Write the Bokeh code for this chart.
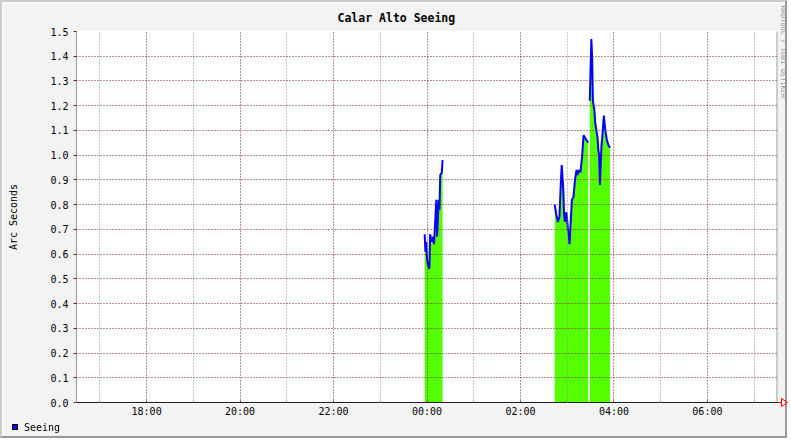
import math
from bokeh.plotting import figure
from bokeh.layouts import column
from bokeh.models import FixedTicker, Range1d, Title, Div, Span
from bokeh.embed import file_html
from bokeh.resources import INLINE

# ---- data (minutes relative to 00:00, seeing in arc seconds) ----
seg1_min = [-3, -2, -1, 0, 1, 3, 4, 6, 8, 9, 10, 12, 13, 15, 16, 17, 19, 20]
seg1_val = [0.68, 0.61, 0.65, 0.58, 0.56, 0.54, 0.68, 0.65, 0.67, 0.64, 0.70,
            0.82, 0.67, 0.82, 0.78, 0.92, 0.93, 0.98]

seg2_min = [164, 166, 168, 170, 172, 173, 175, 176, 177, 178, 179, 181, 182, 183,
            185, 186, 188, 190, 192, 193, 195, 197, 199, 201, 203, 205, 207]
seg2_val = [0.80, 0.76, 0.73, 0.75, 0.90, 0.96, 0.86, 0.76, 0.73, 0.75, 0.77, 0.70,
            0.68, 0.64, 0.76, 0.82, 0.83, 0.90, 0.94, 0.92, 0.94, 0.93, 0.99, 1.08,
            1.07, 1.06, 1.05]

seg3_min = [209, 210, 211, 212, 213, 215, 216, 217, 219, 220, 221, 222, 224, 225,
            227, 229, 231, 233, 235]
seg3_val = [1.22, 1.35, 1.47, 1.40, 1.22, 1.18, 1.13, 1.11, 1.07, 1.02, 1.00, 0.88,
            1.04, 1.07, 1.16, 1.10, 1.06, 1.04, 1.03]

x_major = [-360, -240, -120, 0, 120, 240, 360]
x_labels = ["18:00", "20:00", "22:00", "00:00", "02:00", "04:00", "06:00"]
x_minor = [-420, -300, -180, -60, 60, 180, 300, 420]
y_ticks = [round(i * 0.1, 1) for i in range(16)]
legend_label = "Seeing"

MONO = "DejaVu Sans Mono"
MGRID = "#802020"
GRID = "#8F8F8F"

p = figure(width=787, height=438, output_backend="svg", toolbar_location=None,
           x_range=Range1d(-450, 450), y_range=Range1d(0, 1.5),
           min_border_left=74, min_border_right=11, min_border_top=29,
           min_border_bottom=38,
           background_fill_color="white", border_fill_color="#F3F3F3",
           outline_line_color=None,
           styles={"border-style": "solid", "border-width": "2px",
                   "border-color": "#CBCBCB #999999 #999999 #CBCBCB"})

# title
p.title.text = "Calar Alto Seeing"
p.title.align = "left"
p.title.offset = 261
p.title.standoff = 13
p.title.text_font = MONO
p.title.text_font_size = "11.5px"
p.title.text_font_style = "bold"
p.title.text_color = "black"

# data
for xs, ys in [(seg1_min, seg1_val), (seg2_min, seg2_val), (seg3_min, seg3_val)]:
    p.varea(x=xs, y1=0, y2=ys, fill_color="#54FF00")
    p.line(x=xs, y=ys, line_color="#0000FF", line_width=2)

# axes
p.xaxis.ticker = FixedTicker(ticks=x_major, minor_ticks=x_minor)
p.xaxis.major_label_overrides = {t: l for t, l in zip(x_major, x_labels)}
p.xaxis.axis_line_color = "#202020"
p.xaxis.major_tick_in = 2
p.xaxis.major_tick_out = 0
p.xaxis.major_tick_line_color = MGRID
p.xaxis.minor_tick_in = 2
p.xaxis.minor_tick_out = 0
p.xaxis.minor_tick_line_color = GRID
p.xaxis.major_label_standoff = 3
p.xaxis.major_label_text_font = MONO
p.xaxis.major_label_text_font_size = "10px"
p.xaxis.major_label_text_color = "black"

p.yaxis.ticker = FixedTicker(ticks=y_ticks)
p.yaxis.major_label_overrides = {t: "%.1f" % t for t in y_ticks}
p.yaxis.axis_line_color = "#999999"
p.yaxis.major_tick_in = 0
p.yaxis.major_tick_out = 3
p.yaxis.major_tick_line_color = MGRID
p.yaxis.minor_tick_line_color = None
p.yaxis.major_label_standoff = 5
p.yaxis.major_label_text_font = MONO
p.yaxis.major_label_text_font_size = "10px"
p.yaxis.major_label_text_color = "black"
p.yaxis.axis_label = "Arc Seconds"
p.yaxis.axis_label_standoff = 28
p.yaxis.axis_label_text_font = MONO
p.yaxis.axis_label_text_font_size = "10px"
p.yaxis.axis_label_text_font_style = "normal"
p.yaxis.axis_label_text_color = "black"

# right frame edge
p.add_layout(Span(location=450, dimension="height", line_color="#999999",
                  line_width=2))

# vertical credit on the right
p.add_layout(Title(text="RRDTOOL / TOBI OETIKER", align="left", offset=-26,
                   standoff=2, text_font=MONO, text_font_size="7px",
                   text_font_style="normal", text_color="#999999"), "right")

# grids (drawn over the data, as in rrdtool)
p.xgrid.ticker = FixedTicker(ticks=x_major, minor_ticks=x_minor)
p.xgrid.grid_line_color = MGRID
p.xgrid.grid_line_dash = "1 2"
p.xgrid.minor_grid_line_color = GRID
p.xgrid.minor_grid_line_dash = "1 2"
p.ygrid.ticker = FixedTicker(ticks=y_ticks)
p.ygrid.grid_line_color = MGRID
p.ygrid.grid_line_dash = "1 2"
p.xgrid.level = "overlay"
p.ygrid.level = "overlay"

# legend and axis arrow, drawn as an overlay outside the plot frame
overlay_html = (
    '<div style="position:fixed;left:12px;top:424px;width:6px;height:6px;'
    'background:#0000FF;border:1px solid #000"></div>'
    '<div style="position:fixed;left:24px;top:421px;margin:0;padding:0;'
    'font-family:\'DejaVu Sans Mono\';font-size:10px;line-height:14px;'
    'color:#000;white-space:nowrap">' + legend_label + '</div>'
    '<svg style="position:fixed;left:777px;top:397px" width="12" height="11">'
    '<line x1="0" y1="5.5" x2="4" y2="5.5" stroke="#FF0000" stroke-width="1"/>'
    '<polygon points="4.5,1.5 10.5,5.5 4.5,9.5" fill="none" stroke="#FF0000" '
    'stroke-width="1"/></svg>'
)
overlay = Div(text=overlay_html,
              styles={"position": "absolute", "left": "0px", "top": "0px",
                      "pointer-events": "none", "overflow": "visible"})

layout = column(p, overlay)
open("out.html", "w").write(file_html(layout, INLINE))
